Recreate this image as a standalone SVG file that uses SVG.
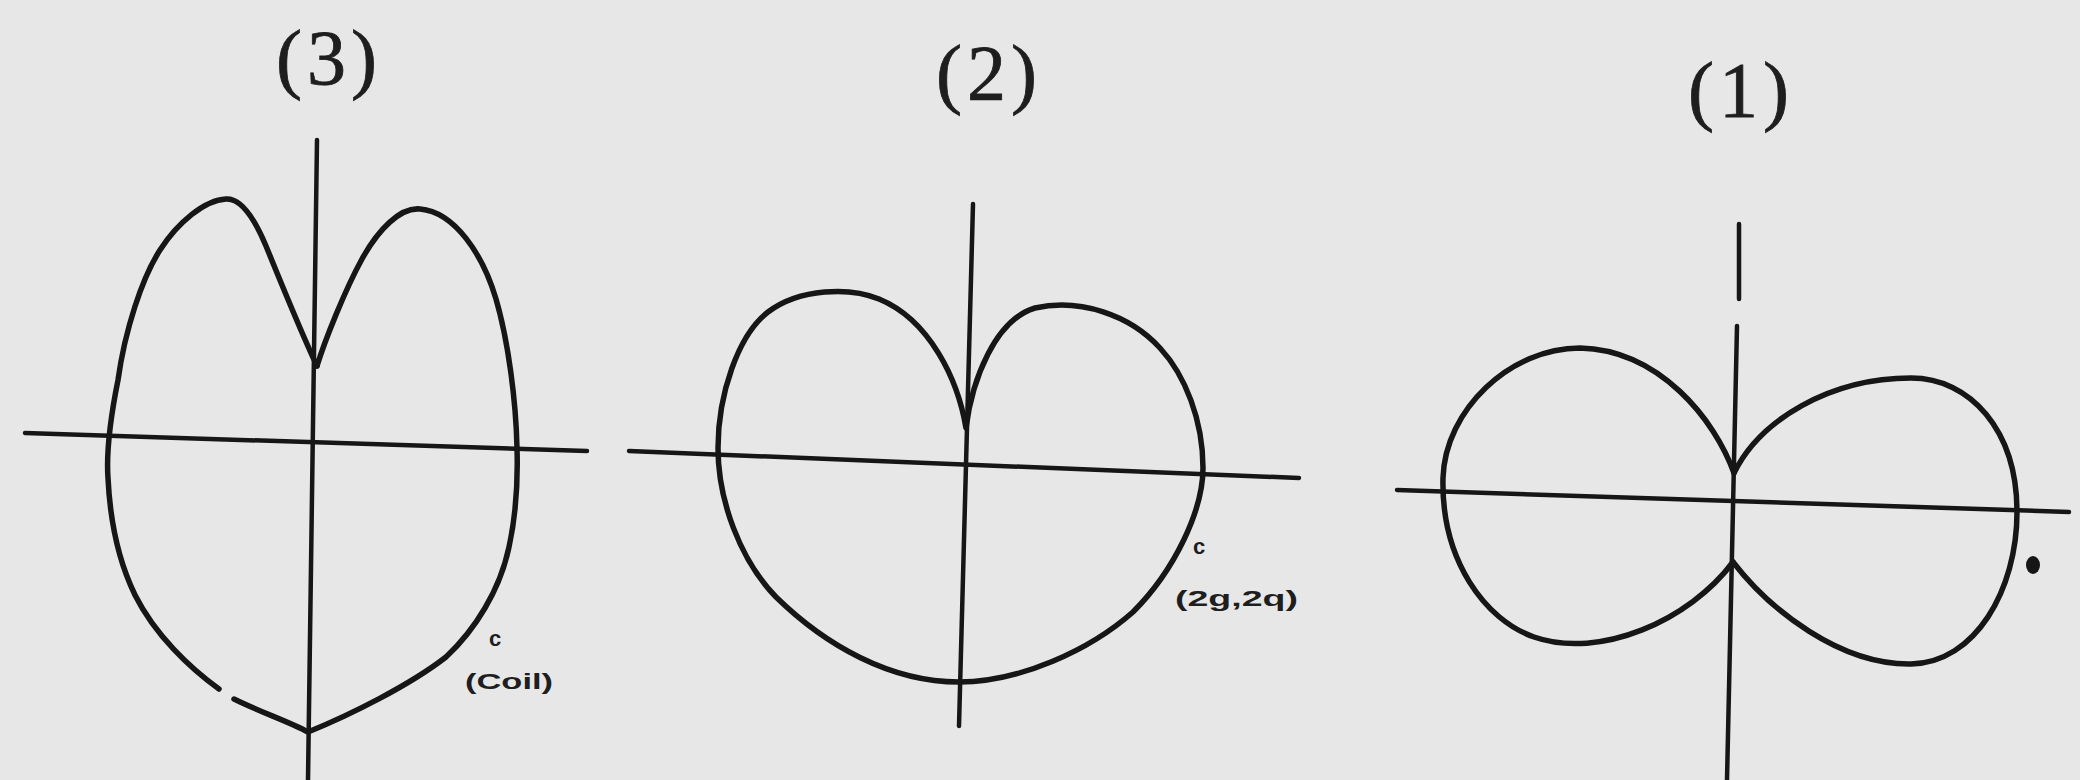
<svg xmlns="http://www.w3.org/2000/svg" width="2080" height="780" viewBox="0 0 2080 780">
<style>
.bg{fill:#e7e7e7}
.axis{stroke:#161616;stroke-width:4.5;fill:none;stroke-linecap:round}
.curve{stroke:#161616;stroke-width:5.5;fill:none;stroke-linecap:round;stroke-linejoin:round}
.title{font-family:"Liberation Serif","Times New Roman",serif;font-size:78px;fill:#1e1e1e;stroke:#1e1e1e;stroke-width:0.8;letter-spacing:5px}
.note{font-family:"Liberation Sans",Arial,sans-serif;font-weight:bold;font-size:22px;fill:#1e1e1e}
</style>
<rect class="bg" x="0" y="0" width="2080" height="780"/>

<g id="fig3">
<text class="title" x="276" y="84">(3)</text>
<g id="fig3-axes">
<line class="axis" x1="317" y1="140" x2="308" y2="780"/>
<line class="axis" x1="25" y1="433" x2="587" y2="451"/>
</g>
<path class="curve" d="M317,366 C300,330 280,280 266,246 C256,222 242,198 226,199 C205,200 178,222 160,250 C142,278 125,330 118,380 C111,415 106,450 108,478 C110,520 118,560 135,595 C155,635 190,668 219,689"/>
<path class="curve" d="M234,699 C260,712 290,722 308,732 C350,715 410,685 446,657 C475,630 500,590 509,547 C516,515 518,480 517,448 C516,400 508,340 496,299 C483,255 455,212 420,209 C400,207 378,230 362,259 C345,290 325,340 317,366"/>
<text class="note" x="489" y="646" font-size="24">c</text>
<text class="note" x="465" y="689" textLength="88" lengthAdjust="spacingAndGlyphs">(Coil)</text>
</g>

<g id="fig2">
<text class="title" x="936" y="99">(2)</text>
<g id="fig2-axes">
<line class="axis" x1="973" y1="204" x2="959" y2="726"/>
<line class="axis" x1="629" y1="451" x2="1299" y2="478"/>
</g>
<path class="curve" d="M966,428 C958,380 930,320 879,299 C850,287 800,288 768,312 C738,335 718,395 718,448 C718,500 740,560 776,597 C825,645 890,682 959,682 C1020,682 1090,650 1133,612 C1175,570 1203,510 1203,468 C1203,420 1185,375 1160,348 C1130,315 1080,298 1035,308 C995,320 972,380 966,428 Z"/>
<text class="note" x="1193" y="554" font-size="24">c</text>
<text class="note" x="1175" y="606" textLength="123" lengthAdjust="spacingAndGlyphs">(2g,2q)</text>
</g>

<g id="fig1">
<text class="title" x="1688" y="116">(1)</text>
<g id="fig1-axes">
<line class="axis" x1="1739" y1="224" x2="1739" y2="299"/>
<line class="axis" x1="1737" y1="326" x2="1727" y2="780"/>
<line class="axis" x1="1397" y1="490" x2="2069" y2="512"/>
</g>
<path class="curve" d="M1734,473 C1715,420 1660,350 1580,348 C1510,348 1445,410 1443,478 C1441,560 1485,620 1534,637 C1600,660 1690,620 1733,562"/>
<path class="curve" d="M1733,562 C1770,610 1840,665 1911,664 C1975,663 2017,590 2017,512 C2017,430 1970,378 1911,378 C1830,378 1760,420 1734,473"/>
<ellipse cx="2033" cy="565" rx="7" ry="9" fill="#161616"/>
</g>
</svg>
